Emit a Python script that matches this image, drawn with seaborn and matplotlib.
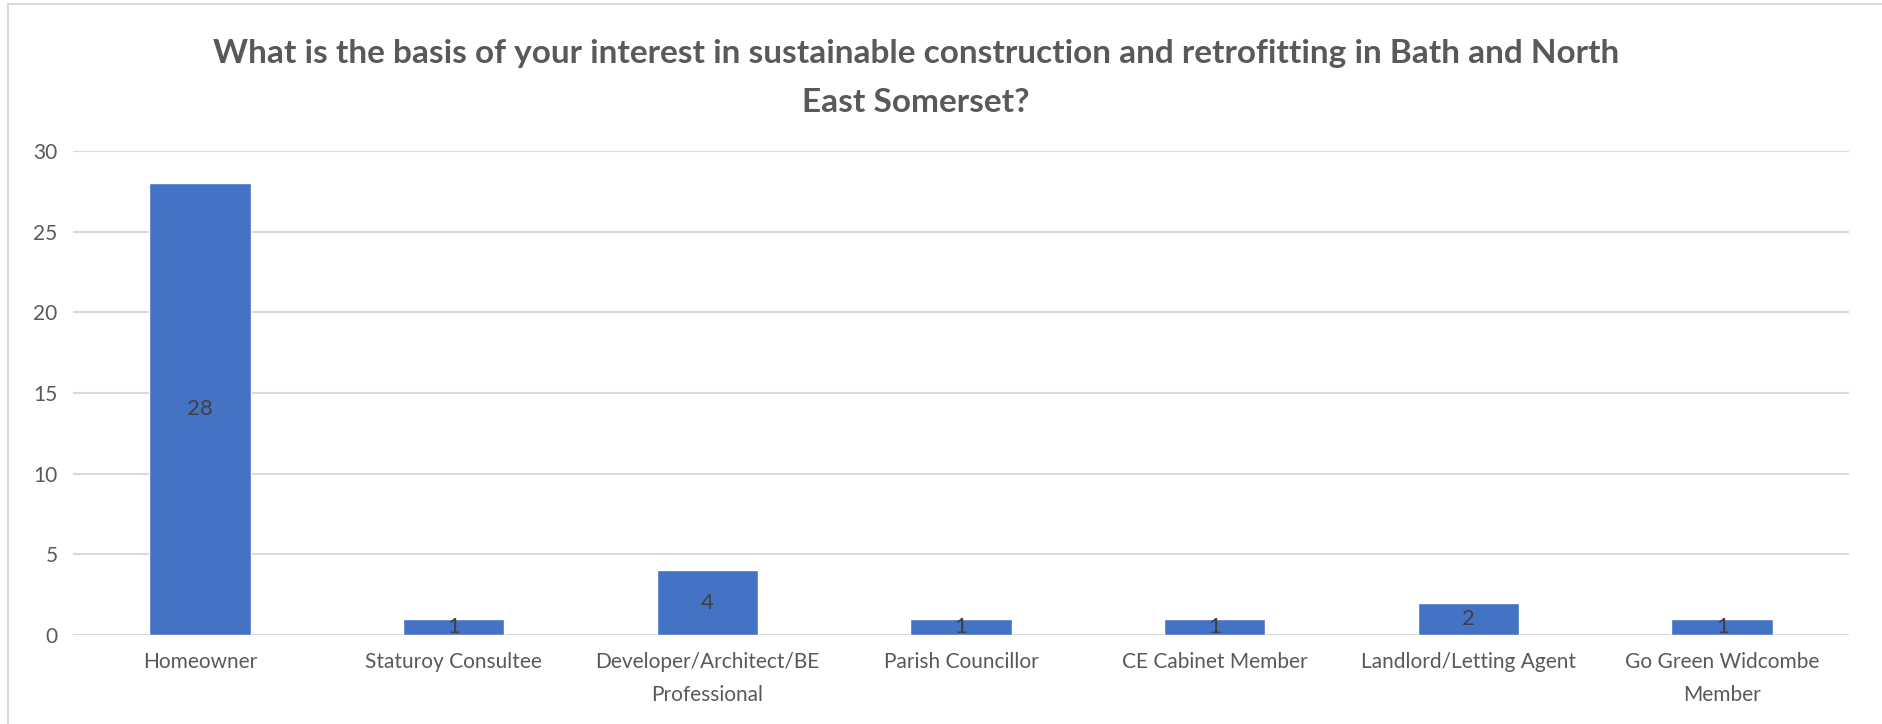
import matplotlib
matplotlib.use("Agg")
import matplotlib.pyplot as plt
from matplotlib.lines import Line2D
import seaborn as sns
import pandas as pd

categories = ["Homeowner", "Staturoy Consultee", "Developer/Architect/BE\nProfessional",
              "Parish Councillor", "CE Cabinet Member", "Landlord/Letting Agent",
              "Go Green Widcombe\nMember"]
values = [28, 1, 4, 1, 1, 2, 1]
yticks = [0, 5, 10, 15, 20, 25, 30]
title = "What is the basis of your interest in sustainable construction and retrofitting in Bath and North\nEast Somerset?"

sns.set_theme(style="white")
plt.rcParams['font.family'] = ['Lato', 'DejaVu Sans']

df = pd.DataFrame({"cat": categories, "val": values})

W, H = 1883, 724
fig = plt.figure(figsize=(W / 100, H / 100), dpi=100)
ax = fig.add_axes([73 / W, 1 - 635 / H, (1849 - 73) / W, (635 - 151) / H])

sns.barplot(data=df, x="cat", y="val", color="#4472C4", width=0.40, ax=ax,
            saturation=1, zorder=3)

ax.set_ylim(0, 30)
ax.set_yticks(yticks)
ax.set_xlim(-0.5, len(categories) - 0.5)
ax.grid(axis="y", color="#D9D9D9", linewidth=1.5, zorder=0)
for s in ax.spines.values():
    s.set_visible(False)
ax.axhline(0, color="#D9D9D9", linewidth=1.8, zorder=2)
ax.set_xlabel("")
ax.set_ylabel("")
ax.tick_params(axis="y", colors="#595959", labelsize=15, length=0, pad=11)
ax.tick_params(axis="x", colors="#595959", labelsize=15, length=0, pad=12)
for lab in ax.get_xticklabels():
    lab.set_linespacing(1.85)

for i, v in enumerate(values):
    ax.text(i, v / 2, str(v), ha="center", va="center", fontsize=16, color="#404040", zorder=4)

fig.text(916 / W, 1 - 78 / H, title, ha="center", va="center", fontsize=24, fontweight="bold",
         color="#595959", linespacing=1.8)

# chart-area border
fig.add_artist(Line2D([8 / W, 8 / W], [0, 1 - 4 / H], color="#D9D9D9", linewidth=1.5))
fig.add_artist(Line2D([8 / W, 1], [1 - 4 / H, 1 - 4 / H], color="#D9D9D9", linewidth=1.5))

fig.savefig("out.png", dpi=100, facecolor="white")
